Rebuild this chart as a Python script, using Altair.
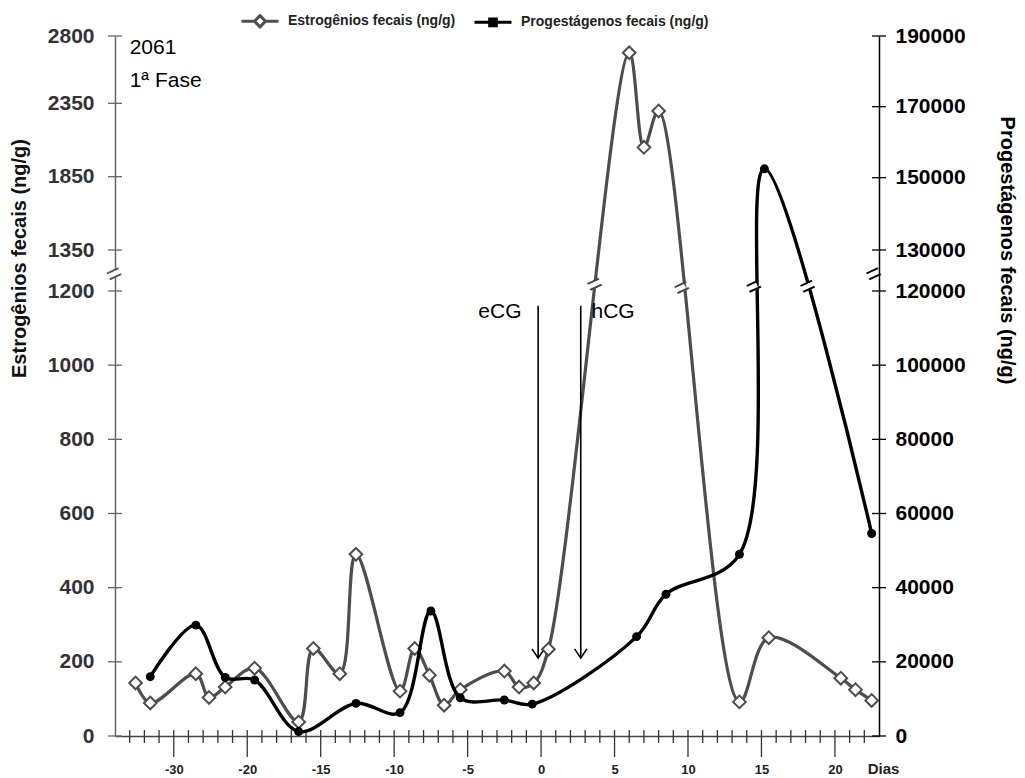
import altair as alt
import pandas as pd

# ---------------- data ----------------
# x = position on the day axis (the "-30" label sits at -25, every other label at its own value)
est_x = [-27.6, -26.6, -23.5, -22.6, -21.5, -19.5, -16.5, -15.5, -13.7, -12.6,
         -9.6, -8.6, -7.6, -6.6, -5.5, -2.5, -1.5, -0.5, 0.5, 6.0,
         7.0, 8.0, 13.5, 15.5, 20.4, 21.4, 22.5]
est_y = [143, 89, 168, 104, 132, 183, 38, 236, 168, 490,
         121, 236, 164, 83, 125, 175, 132, 143, 234, 2688,
         2050, 2298, 92, 265, 156, 125, 96]

pro_x = [-26.6, -23.5, -21.5, -19.5, -16.5, -12.6, -9.6, -7.5, -5.5, -2.5,
         -0.6, 6.5, 8.5, 13.5, 15.2, 22.5]
pro_y = [16000, 29900, 15800, 15100, 1200, 8800, 6300, 33700, 10300, 9700,
         8600, 26800, 38200, 49000, 152500, 54600]

x_label_pos = [-25, -20, -15, -10, -5, 0, 5, 10, 15, 20]
x_label_txt = ["-30", "-20", "-15", "-10", "-5", "0", "5", "10", "15", "20"]
x_minor = [v for v in range(-28, 23) if v not in x_label_pos]

est_ticks = [0, 200, 400, 600, 800, 1000, 1200, 1350, 1850, 2350, 2800]
pro_ticks = [0, 20000, 40000, 60000, 80000, 100000, 120000, 130000, 150000, 170000, 190000]

# broken axes: piecewise scale breakpoints
est_dom = [0, 1200, 1350, 1850, 2350, 2800]
pro_dom = [0, 120000, 130000, 150000, 170000, 190000]

# injections (arrows)
arrow_u = [-0.2, 2.7]
arrow_top = [1160, 1160]
arrow_bot = [210, 210]
arrow_lab = ["eCG", "hCG"]
arrow_lab_u = [-2.8, 4.9]
arrow_lab_v = [1143, 1143]

# annotation
note_txt = ["2061", "1ª Fase"]
note_u = [-28, -28]
note_v = [2720, 2499]

# break symbols (position in right-axis units)
brk_u = [-29.05, 22.65, 3.65, 9.6, 14.5, 18.15]
brk_v = [124100, 124100, 121500, 120700, 121000, 121000]
brk_col = ["#555555", "#000000", "#444444", "#444444", "#000000", "#000000"]

S_E = "Estrogênios fecais (ng/g)"
S_P = "Progestágenos fecais (ng/g)"

# ---------------- layout ----------------
W, H = 764, 700
FONT = "Liberation Sans"
est_rng = [H, 255, 214, 140.7, 67.3, 0]
pro_rng = [H, 255, 214, 141.7, 70.7, 0]

xscale = alt.Scale(domain=[-29, 23], nice=False, zero=False)
est_scale = alt.Scale(domain=est_dom, range=est_rng, nice=False, zero=False)
pro_scale = alt.Scale(domain=pro_dom, range=pro_rng, nice=False, zero=False)

lbl_expr = "".join(
    f"datum.value == {p} ? '{t}' : " for p, t in zip(x_label_pos, x_label_txt)
) + "''"

x_axis = alt.Axis(
    values=x_label_pos, labelExpr=lbl_expr, ticks=False, grid=False,
    domainColor="#444444", domainWidth=1.5,
    labelFont=FONT, labelFontSize=13, labelFontWeight="bold", labelColor="#222222",
    labelPadding=27, labelFlush=False, labelOverlap=False,
    title="Dias", titleFont=FONT, titleFontSize=15, titleFontWeight="bold",
    titleColor="#222222", titleX=768, titleY=32, titleAlign="center",
    titleBaseline="middle",
)

left_axis = alt.Axis(
    orient="left", values=est_ticks, format="d", ticks=False, grid=False,
    domainColor="#666666", domainWidth=1.5,
    labelFont=FONT, labelFontSize=21, labelFontWeight="bold", labelColor="#333333",
    labelPadding=21, labelOverlap=False,
    title=S_E, titleFont=FONT, titleFontSize=20, titleFontWeight="bold",
    titleColor="#111111", titleAngle=270, titleX=-96, titleY=222,
    titleAlign="center", titleBaseline="middle",
)

right_axis = alt.Axis(
    orient="right", values=pro_ticks, format="d", ticks=False, grid=False,
    domainColor="#000000", domainWidth=1.5,
    labelFont=FONT, labelFontSize=21, labelFontWeight="bold", labelColor="#000000",
    labelPadding=16, labelOverlap=False,
    title=S_P, titleFont=FONT, titleFontSize=20, titleFontWeight="bold",
    titleColor="#000000", titleAngle=90, titleX=127, titleY=214,
    titleAlign="center", titleBaseline="middle",
)


def X(f="u"):
    return alt.X(f"{f}:Q", scale=xscale, axis=x_axis)


def YL(f="v"):
    return alt.Y(f"{f}:Q", scale=est_scale, axis=left_axis)


def YR(f="v"):
    return alt.Y(f"{f}:Q", scale=pro_scale, axis=right_axis)


est_df = pd.DataFrame({"u": est_x, "v": est_y})
pro_df = pd.DataFrame({"u": pro_x, "v": pro_y})

# ---------------- estrogen (left axis) group ----------------
est_line = alt.Chart(est_df).mark_line(
    interpolate="catmull-rom", color="#4d4d4d", strokeWidth=3.2
).encode(x=X(), y=YL())

est_pts = alt.Chart(est_df).mark_point(
    shape="diamond", filled=True, fill="white", stroke="#4d4d4d",
    strokeWidth=2, size=160, opacity=1
).encode(x=X(), y=YL())

xt_minor = alt.Chart(pd.DataFrame({"u": x_minor})).mark_rule(
    color="#333333", strokeWidth=1.3
).encode(x=X(), y=alt.value(H - 6), y2=alt.value(H + 7))
xt_major = alt.Chart(pd.DataFrame({"u": x_label_pos})).mark_rule(
    color="#333333", strokeWidth=1.3
).encode(x=X(), y=alt.value(H - 6), y2=alt.value(H + 21))

yl_ticks = alt.Chart(pd.DataFrame({"v": est_ticks})).mark_rule(
    color="#666666", strokeWidth=1.3
).encode(y=YL(), x=alt.value(-7), x2=alt.value(7))

arr_df = pd.DataFrame({"u": arrow_u, "top": arrow_top, "bot": arrow_bot})
arr_rule = alt.Chart(arr_df).mark_rule(color="black", strokeWidth=1.6).encode(
    x=X(), y=YL("top"), y2="bot:Q",
)
arr_head = alt.Chart(arr_df).mark_point(
    shape="M-0.6,-0.9L0,0L0.6,-0.9", filled=False, stroke="black",
    strokeWidth=1.6, size=420, opacity=1
).encode(x=X(), y=YL("bot"))
arr_txt = alt.Chart(pd.DataFrame({"u": arrow_lab_u, "v": arrow_lab_v, "t": arrow_lab})).mark_text(
    font=FONT, fontSize=21, color="black", baseline="middle", align="center"
).encode(x=X(), y=YL(), text="t:N")

note = alt.Chart(pd.DataFrame({"u": note_u, "v": note_v, "t": note_txt})).mark_text(
    font=FONT, fontSize=21, color="black", baseline="middle", align="left"
).encode(x=X(), y=YL(), text="t:N")

path_e = "M-1,0L-0.3,0M0.3,0L1,0M-0.3,0L0,-0.3L0.3,0L0,0.3Z"
path_p = "M-1,0L1,0M-0.18,-0.18L0.18,-0.18L0.18,0.18L-0.18,0.18Z"
leg_df = pd.DataFrame({"s": [S_E, S_P]})
legend_layer = alt.Chart(leg_df).mark_point(opacity=1, strokeWidth=3).encode(
    shape=alt.Shape("s:N", scale=alt.Scale(domain=[S_E, S_P], range=[path_e, path_p]),
                    legend=alt.Legend(
                        title=None, orient="none", legendX=125, legendY=-35,
                        direction="horizontal", symbolSize=1369, symbolStrokeWidth=3,
                        labelFont=FONT, labelFontSize=14, labelFontWeight="bold",
                        labelColor="#222222", labelOffset=8, columnPadding=12,
                        labelLimit=400)),
    stroke=alt.Stroke("s:N", scale=alt.Scale(domain=[S_E, S_P], range=["#4d4d4d", "#000000"])),
    fill=alt.Fill("s:N", scale=alt.Scale(domain=[S_E, S_P], range=["#ffffff", "#000000"])),
).transform_filter("false")

est_group = alt.layer(
    est_line, xt_minor, xt_major, yl_ticks, arr_rule, arr_head, arr_txt, note,
    est_pts, legend_layer
)

# ---------------- progesterone (right axis) group ----------------
pro_line = alt.Chart(pro_df).mark_line(
    interpolate="catmull-rom", color="#000000", strokeWidth=3.4
).encode(x=X(), y=YR())
pro_pts = alt.Chart(pro_df).mark_point(
    shape="circle", filled=True, color="#000000", size=80, opacity=1
).encode(x=X(), y=YR())
yr_ticks = alt.Chart(pd.DataFrame({"v": pro_ticks})).mark_rule(
    color="#000000", strokeWidth=1.3
).encode(y=YR(), x=alt.value(W - 7), x2=alt.value(W + 7))

brk_df = pd.DataFrame({"u": brk_u, "v": brk_v, "c": brk_col})
brk_gap = alt.Chart(brk_df).mark_point(
    shape="square", filled=True, fill="white", strokeWidth=0, size=50,
    angle=335, opacity=1
).encode(x=X(), y=YR())
brk_sym = alt.Chart(brk_df).mark_text(
    text="=", font=FONT, fontSize=26, angle=335, baseline="middle", align="center"
).encode(x=X(), y=YR(), color=alt.Color("c:N", scale=None))

pro_group = alt.layer(pro_line, yr_ticks, pro_pts, brk_gap, brk_sym)

chart = alt.layer(est_group, pro_group).resolve_scale(
    y="independent"
).properties(
    width=W, height=H,
    padding={"left": 107, "top": 28, "right": 138, "bottom": 40},
    autosize=alt.AutoSizeParams(type="none"),
    background="white",
).configure_view(stroke=None)

chart.save("out.html", embed_options={"renderer": "svg", "actions": False})
